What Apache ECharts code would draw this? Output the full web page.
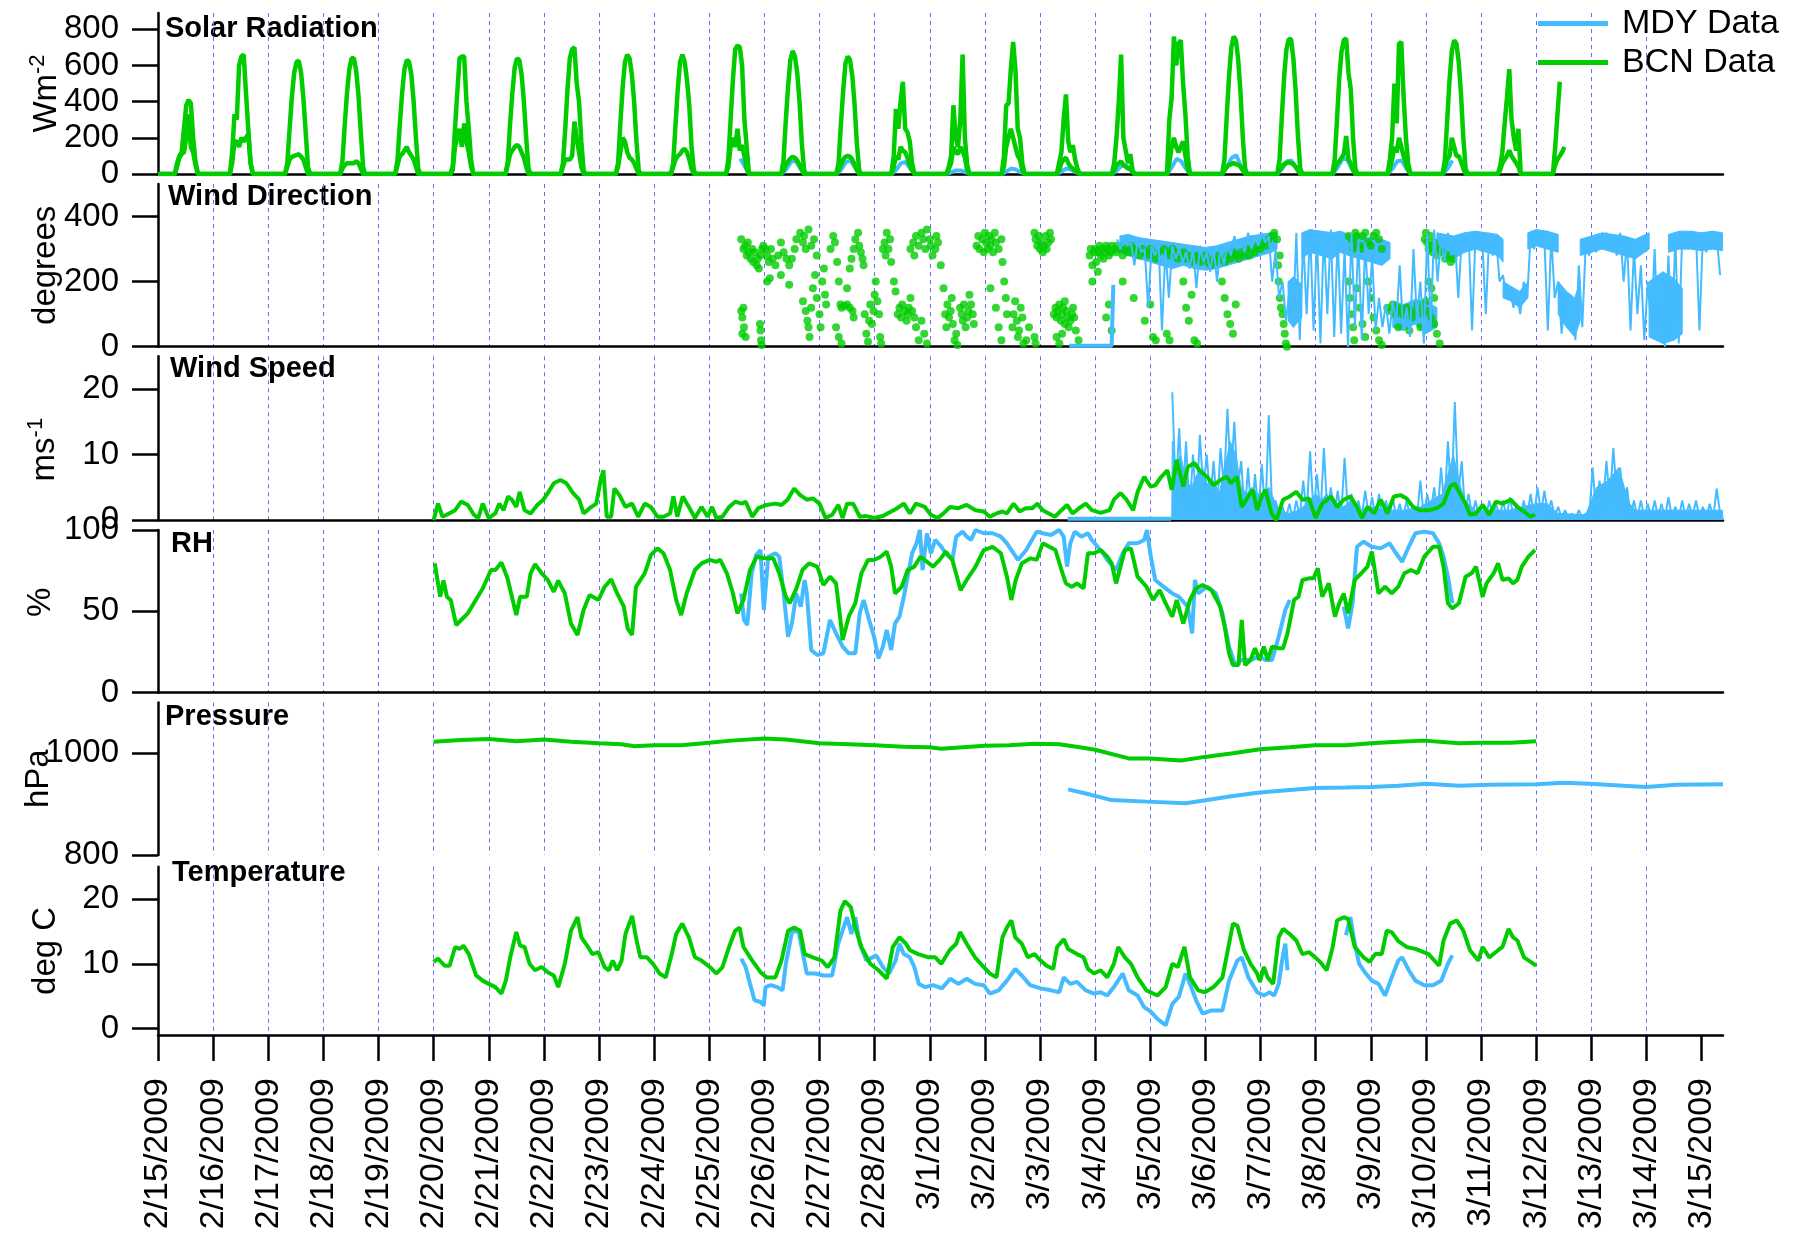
<!DOCTYPE html>
<html><head><meta charset="utf-8">
<script src="https://cdn.jsdelivr.net/npm/echarts@6/dist/echarts.min.js"></script>
<style>html,body{margin:0;padding:0;background:#fff}#c{width:1808px;height:1238px}</style>
</head><body><div id="c"></div>
<script>
// ---------- DATA (x = days since 2/15/2009 00:00) ----------
const dayTicks = [0,1,2,3,4,5,6,7,8,9,10,11,12,13,14,15,16,17,18,19,20,21,22,23,24,25,26,27,28];
const solarTicks = [0,200,400,600,800];
const wdTicks = [0,200,400];
const wsTicks = [0,10,20];
const rhTicks = [0,50,100];
const pTicks = [800,1000];
const tTicks = [0,10,20];

// Solar radiation: values at the hours below for each day 2/15 .. 3/12
const solarHours = [7.3,8.3,9.3,10.3,11.3,12.3,13.3,14.3,15.3,16.3,17.3,18.2];
const bcnSolarLead = [[0,0]];
const bcnSolarHi = [
[0,60,100,120,250,380,410,390,200,70,10,0],
[0,120,330,300,600,650,660,450,250,60,0,0],
[0,60,250,430,560,620,625,560,420,230,40,0],
[0,70,270,450,580,640,640,570,430,230,40,0],
[0,80,280,450,580,630,620,550,400,200,30,0],
[0,40,250,450,640,650,650,400,250,80,0,0],
[0,70,280,450,590,640,630,550,400,200,30,0],
[0,60,250,470,640,690,700,500,400,180,20,0],
[0,60,280,480,620,660,640,550,400,180,20,0],
[0,60,270,470,620,660,620,520,380,150,20,0],
[0,80,300,520,690,710,700,600,300,150,0,0],
[0,70,290,480,630,680,650,560,400,170,20,0],
[0,60,270,460,610,650,630,540,380,160,20,0],
[0,100,360,250,400,510,250,230,180,60,0,0],
[0,40,100,380,200,150,300,660,200,50,0,0],
[0,100,380,390,580,730,580,250,200,60,0,0],
[0,60,120,300,440,180,120,160,80,30,0,0],
[0,60,200,400,660,200,130,60,110,20,0,0],
[0,300,420,760,600,720,740,500,330,100,0,0],
[0,80,320,540,700,760,740,630,450,200,30,0],
[0,80,320,540,690,745,745,640,460,210,30,0],
[0,80,300,530,680,740,750,560,470,200,30,0],
[0,80,200,500,280,720,730,430,200,60,0,0],
[0,80,300,520,680,740,720,620,440,200,30,0],
[0,40,120,280,420,580,300,200,130,250,0,0],
[0,150,330,510]
];
const bcnSolarLo = [
[0,40,90,110,120,200,330,150,120,50,0,0],
[0,60,180,180,150,200,180,200,220,60,0,0],
[0,40,80,95,100,105,110,95,80,40,0,0],
[0,30,50,60,60,60,60,70,60,30,0,0],
[0,50,100,110,130,150,120,100,80,40,0,0],
[0,20,150,200,250,150,280,180,120,40,0,0],
[0,50,110,130,150,160,150,120,90,40,0,0],
[0,40,80,80,80,100,290,200,120,40,0,0],
[0,40,120,200,180,120,90,80,60,30,0,0],
[0,40,80,100,110,130,140,120,80,30,0,0],
[0,40,150,200,150,250,130,160,100,30,0,0],
[0,20,50,70,85,95,90,75,50,20,0,0],
[0,20,50,80,95,100,95,80,50,20,0,0],
[0,40,100,80,150,130,120,90,50,20,0,0],
[0,30,60,150,120,110,150,130,90,20,0,0],
[0,40,150,200,250,200,150,100,80,20,0,0],
[0,20,60,80,90,60,40,30,20,10,0,0],
[0,20,50,60,70,50,40,30,30,10,0,0],
[0,60,150,200,150,120,150,180,100,30,0,0],
[0,20,40,50,55,60,55,50,40,20,0,0],
[0,20,40,55,60,65,60,55,40,20,0,0],
[0,30,60,70,90,110,210,80,60,20,0,0],
[0,30,80,150,120,200,150,100,60,20,0,0],
[0,40,80,100,200,150,100,100,70,30,0,0],
[0,20,60,80,100,130,100,80,60,40,0,0],
[0,50,80,100,120,150]
];
// MDY solar: values at the hours below for days 2/25 .. 3/10
const mdySolarHours = [7.5,9.5,11.5,13.5,15.5,17.5];
const mdySolar = [
[null,null,null,85,40,0],[0,25,65,75,35,0],[0,25,65,75,35,0],[0,25,60,66,30,0],
[0,10,20,20,10,0],[0,15,30,25,10,0],[0,15,30,25,10,0],[0,20,45,48,20,0],
[0,40,85,70,30,0],[0,40,90,103,40,0],[0,30,70,75,30,0],[0,35,80,85,35,0],
[0,30,70,75,30,0],[0,30,75]
];

// Wind direction
const bcnWd = [
[10.58,330],[10.62,300],[10.65,310],[10.68,280],[10.7,320],[10.72,290],[10.75,270],[10.78,300],[10.8,260],[10.83,290],[10.86,250],[10.88,270],[10.9,240],[10.93,280],[10.96,300],[10.98,310],[10.58,110],[10.6,90],[10.62,120],[10.63,60],[10.6,40],[10.66,30],[10.92,70],[10.93,50],[10.94,20],[10.95,5],
[11.02,300],[11.05,280],[11.08,260],[11.12,300],[11.15,270],[11.2,250],[11.25,280],[11.3,320],[11.35,290],[11.4,270],[11.45,250],[11.5,270],[11.55,300],[11.58,330],[11.05,200],[11.1,210],[11.3,220],[11.45,190],
[11.65,350],[11.7,320],[11.72,340],[11.75,300],[11.8,360],[11.85,310],[11.9,330],[11.95,280],[11.7,140],[11.75,110],[11.78,80],[11.8,60],[11.82,30],[11.85,120],[11.88,180],[11.92,220],[11.95,150],[12.0,100],[12.02,60],[12.05,200],[12.08,240],[12.1,160],[12.12,130],
[12.2,300],[12.25,340],[12.28,320],[12.32,260],[12.35,200],[12.38,130],[12.4,120],[12.45,125],[12.5,130],[12.55,120],[12.6,110],[12.62,90],[12.3,60],[12.35,30],[12.4,10],[12.5,180],[12.55,240],[12.58,270],[12.62,300],[12.65,330],[12.7,350],[12.72,310],[12.75,290],[12.78,270],
[12.8,250],[12.82,100],[12.85,40],[12.88,15],[12.9,80],[12.92,130],[12.95,70],[12.98,110],[13.0,160],[13.02,200],[13.05,140],[13.08,100],[13.1,30],[13.12,10],[13.15,300],[13.18,320],[13.2,280],[13.22,350],[13.25,300],[13.28,330],[13.3,260],[13.35,200],[13.38,170],
[13.42,100],[13.45,120],[13.48,90],[13.5,130],[13.55,110],[13.58,80],[13.6,100],[13.62,120],[13.65,150],[13.68,110],[13.72,90],[13.75,60],[13.8,20],[13.85,80],[13.9,40],[13.95,10],[13.65,300],[13.7,320],[13.72,280],[13.75,340],[13.8,310],[13.85,350],[13.88,330],[13.92,300],[13.95,360],
[14.0,330],[14.02,310],[14.05,280],[14.1,300],[14.12,340],[14.15,320],[14.2,250],[14.25,180],[14.28,100],[14.3,60],[14.32,130],[14.35,90],[14.38,110],[14.4,150],[14.42,70],[14.45,20],[14.48,40],[14.5,5],
[14.55,120],[14.58,100],[14.6,80],[14.62,130],[14.65,60],[14.68,90],[14.7,110],[14.72,160],[14.75,130],[14.78,100],[14.8,70],[14.85,310],[14.88,340],[14.9,300],[14.95,330],[14.98,290],
[15.0,350],[15.02,320],[15.05,300],[15.08,340],[15.1,310],[15.12,330],[15.15,290],[15.18,350],[15.2,320],[15.25,300],[15.3,330],[15.32,260],[15.35,200],[15.1,180],[15.2,120],[15.25,60],[15.3,20],[15.38,150],[15.4,100],
[15.5,60],[15.52,100],[15.55,140],[15.58,80],[15.6,30],[15.62,50],[15.65,120],[15.68,90],[15.7,10],[15.75,20],[15.8,60],[15.9,30],[15.92,10],
[15.9,350],[15.92,330],[15.95,310],[15.98,340],[16.0,300],[16.02,320],[16.05,290],[16.08,310],[16.1,340],[16.12,300],[16.15,320],[16.18,350],[16.2,330],
[16.25,100],[16.28,120],[16.3,90],[16.32,110],[16.35,130],[16.38,80],[16.4,100],[16.42,120],[16.45,70],[16.48,110],[16.5,90],[16.52,60],[16.55,80],[16.58,100],[16.6,120],[16.62,90],[16.3,30],[16.35,10],[16.4,40],[16.7,20],[16.65,50],[16.45,140],
[16.9,280],[16.92,300],[16.95,250],[16.98,290],[17.0,300],[17.02,260],[17.05,290],[17.08,310],[17.1,280],[17.12,300],[17.15,270],[17.18,290],[17.2,310],[17.22,300],[17.25,280],[17.28,290],[17.3,310],[16.95,200],[17.05,230],[17.2,90],[17.25,130],[17.3,50],
[17.35,300],[17.38,290],[17.4,310],[17.45,300],[17.5,280],[17.55,300],[17.6,290],[17.65,310],[17.7,290],[17.75,300],[17.8,280],[17.85,300],[17.9,290],[17.95,280],[18.0,300],[18.05,290],[18.1,270],[18.15,290],[17.5,200],[17.7,150],[17.9,80],[18.0,130],[18.05,30],[18.1,20],
[18.25,300],[18.3,290],[18.35,280],[18.4,300],[18.45,290],[18.5,270],[18.55,280],[18.6,290],[18.65,270],[18.7,280],[18.75,260],[18.8,270],[18.85,280],[18.9,260],[18.95,270],[19.0,280],[19.05,260],[19.1,250],[19.15,270],[19.2,260],[19.25,280],[19.3,270],[19.35,260],[19.4,280],[19.45,270],[19.5,290],[19.55,280],[19.6,270],[19.65,290],[19.7,280],[19.75,300],[19.8,280],[19.85,300],[19.9,290],[19.95,310],[20.0,300],[20.05,320],[20.1,310],[20.15,330],[20.2,340],[20.25,350],
[18.6,200],[18.65,120],[18.7,80],[18.75,160],[18.8,20],[18.85,10],[19.3,200],[19.35,150],[19.4,100],[19.45,70],[19.5,40],[19.55,130],[18.3,40],[18.35,20],
[20.3,330],[20.32,250],[20.33,200],[20.35,150],[20.37,120],[20.4,100],[20.42,70],[20.44,40],[20.46,10],[20.48,0],[20.35,280],
[21.6,340],[21.65,330],[21.68,300],[21.7,320],[21.72,350],[21.75,340],[21.8,310],[21.82,300],[21.85,340],[21.9,350],[21.95,320],[22.0,310],[22.05,340],[22.1,350],[22.15,330],[22.2,300],
[21.6,200],[21.62,150],[21.65,100],[21.68,60],[21.7,20],[21.75,180],[21.8,120],[21.85,70],[21.9,30],[21.95,200],[22.0,150],[22.05,90],[22.1,50],[22.15,20],[22.2,5],
[22.3,120],[22.35,110],[22.4,130],[22.45,100],[22.5,120],[22.55,110],[22.6,95],[22.65,120],[22.7,105],[22.75,90],[22.8,110],[22.85,130],[22.9,120],[22.95,100],[23.0,140],[23.05,110],[23.1,90],[23.15,70],[23.2,40],[23.25,10],[22.5,60],[22.7,50],[22.9,60],
[22.98,330],[23.0,350],[23.02,320],[23.05,300],[23.08,340],[23.1,310],[23.12,290],[23.15,320],[23.18,300],[23.2,280],[23.25,300],[23.3,290],[23.35,270],[23.4,280],[23.45,260],[23.5,270],[23.05,200],[23.1,180],[23.15,150]
];
const mdyWdLead = [[16.53,3],[17.3,3],[17.33,190]];
const mdyWdStart = 17.4, mdyWdStep = 0.0625;
const mdyWd = [
330,300,340,310, 320,250,330,290, 300,120,310,280, 320,50,300,150,
310,270,300,260, 290,240,300,180, 310,260,290,230, 300,200,310,250,
320,280,340,300, 330,290,350,300, 340,310,350,320, 340,200,300,150,
200,80,170,60, 350,20,330,100, 360,50,340,10, 350,100,360,30,
340,40,300,0, 350,60,330,20, 320,100,280,50, 150,60,130,40,
140,70,250,50, 120,30,300,80, 200,10,350,60, 360,200,340,260,
350,280,340,150, 330,290,350,50, 340,300,320,100, 350,280,330,200,
220,150,180,120, 160,100,200,150, 340,300,350,310, 330,50,340,150,
200,40,150,80, 130,20,250,60, 320,280,340,290, 330,300,350,310,
340,280,350,200, 330,50,300,100, 250,20,200,60, 300,30,150,0,
280,40,330,10, 340,300,350,310, 350,50,340,290, 350,300,340,220
];
// dense MDY direction bands, each a run of [day, low deg, high deg]
const mdyWdBands = [
 [[17.45,290,340],[17.6,280,345],[17.8,270,335],[18.0,260,330],[18.2,250,325],[18.4,240,320],[18.6,250,315],[18.8,240,310],[19.0,235,305],[19.2,240,310],[19.4,250,320],[19.6,260,330],[19.8,270,340],[20.0,280,345],[20.2,290,350],[20.3,300,350]],
 [[20.5,80,200],[20.6,60,215],[20.75,90,190]],
 [[20.75,270,350],[20.9,290,360],[21.1,280,355],[21.3,270,350],[21.45,290,355],[21.6,280,345],[21.8,270,340],[22.0,260,335],[22.2,250,330],[22.35,270,320]],
 [[22.4,60,140],[22.6,50,130],[22.8,70,145],[23.0,40,140],[23.2,60,120]],
 [[23.2,300,350],[23.35,280,345],[23.5,270,340],[23.7,290,350],[23.9,300,355],[24.1,290,350],[24.3,280,345],[24.4,260,330]],
 [[24.4,150,200],[24.55,140,185],[24.7,120,170],[24.85,150,200]],
 [[24.85,300,350],[25.0,310,360],[25.2,300,355],[25.4,290,345]],
 [[25.4,100,200],[25.55,60,170],[25.7,30,150],[25.8,80,200]],
 [[25.8,280,330],[26.0,290,340],[26.2,300,350],[26.4,290,345],[26.6,280,340],[26.8,270,330],[27.05,300,350]],
 [[27.05,30,200],[27.3,10,230],[27.5,20,210],[27.65,40,180]],
 [[27.4,290,345],[27.6,300,355],[27.8,300,355],[28.0,295,350],[28.2,300,355],[28.38,295,350]]
];

// Wind speed
const bcnWs = [[5.0,0],[5.08,2.5],[5.16,0.5],[5.28,1],[5.39,1.5],[5.5,2.8],[5.62,2.3],[5.73,0.8],[5.81,0.3],[5.89,2.5],[6.0,0.3],[6.12,1],[6.19,2.5],[6.27,1.5],[6.35,3.6],[6.42,3.1],[6.5,2],[6.56,4.3],[6.65,1.5],[6.76,1],[6.88,2.3],[6.99,3.1],[7.07,4.1],[7.18,5.6],[7.3,6.1],[7.41,5.6],[7.53,4.1],[7.64,3.1],[7.72,1],[7.83,1.8],[7.95,2.5],[8.03,6.1],[8.08,7.6],[8.14,0.5],[8.22,0.5],[8.28,4.8],[8.37,3.8],[8.48,2],[8.6,2.5],[8.71,0.5],[8.83,2.5],[8.94,2],[9.06,0.5],[9.17,0.5],[9.29,1],[9.35,3.6],[9.42,0.5],[9.52,3.6],[9.63,2],[9.74,0.3],[9.86,2],[9.97,0.5],[10.05,2],[10.13,0.3],[10.24,0.5],[10.36,2],[10.47,2.8],[10.59,2.5],[10.66,2.8],[10.78,0.5],[10.89,1.8],[11.04,2.3],[11.2,2.5],[11.31,2.3],[11.42,3.1],[11.54,4.8],[11.65,3.8],[11.77,3.1],[11.88,3.3],[12.0,2.5],[12.11,0.3],[12.23,0.8],[12.34,2.3],[12.42,0.3],[12.5,2.5],[12.61,2.5],[12.73,0.5],[12.85,0.6],[12.99,0.3],[13.15,0.6],[13.3,1.3],[13.41,1.8],[13.53,2.5],[13.64,1],[13.75,2.5],[13.91,2],[14.02,0.8],[14.14,0.3],[14.25,1],[14.37,2],[14.52,1.8],[14.67,2.3],[14.83,1.5],[14.98,1.3],[15.09,0.5],[15.21,1],[15.32,1.3],[15.4,1],[15.52,2.5],[15.63,1.3],[15.74,1.8],[15.86,1.8],[15.95,2.5],[16.05,1.5],[16.16,1],[16.27,0.5],[16.39,1.5],[16.49,2.3],[16.59,1],[16.71,1.8],[16.83,2.5],[16.94,1.5],[17.1,1.1],[17.26,1.5],[17.34,3.1],[17.46,4.1],[17.57,3.1],[17.69,1.5],[17.77,4.3],[17.89,6.6],[18.01,5.1],[18.09,5.3],[18.2,6.6],[18.31,7.6],[18.39,4.6],[18.48,9.2],[18.6,5.1],[18.68,8.1],[18.8,8.7],[18.91,7.4],[19.03,6.6],[19.15,5.3],[19.27,6.1],[19.39,6.6],[19.46,5.6],[19.57,6.6],[19.66,2],[19.78,3.6],[19.86,4.6],[19.94,1.5],[20.02,3.6],[20.09,4.6],[20.2,1],[20.29,0],[20.41,3.1],[20.53,3.6],[20.65,4.3],[20.76,3.1],[20.88,3.3],[21.0,0.3],[21.12,2.5],[21.28,3.6],[21.39,2],[21.51,3.1],[21.63,3.6],[21.75,2],[21.84,0.3],[21.94,2],[22.06,1],[22.18,3.1],[22.3,1],[22.42,3.6],[22.54,3.8],[22.65,3.3],[22.77,2],[22.89,1.5],[23.05,1.5],[23.2,1.8],[23.32,2.5],[23.44,5.1],[23.52,5.6],[23.6,4.3],[23.72,2.5],[23.8,0.8],[23.91,1],[24.03,2.3],[24.15,0.8],[24.27,2.8],[24.39,2.5],[24.54,3.1],[24.66,2],[24.78,1.3],[24.9,0.5],[24.98,0.8]];
const mdyWsLead = [[16.5,0.2],[18.38,0.2]];
const mdyWsStart = 18.4, mdyWsStep = 0.0625;
const mdyWs = [
19.5,4,14,3, 12,1,10,2, 13,4.5,10,3, 9,1.5,11,5, 17,6,15,5, 9,1,8,0.5, 7,1,8.5,0.5, 16,1,3,0.3,
2,0.3,2.5,0.2, 3,0.5,6,1, 10.5,1,7,0.5, 11,1,5,0.5, 4.5,0.5,9.5,1, 4,0.3,3,0.5, 4.5,0.5,3.5,0.3, 4,0.3,3,0.5,
3.5,0.3,2.5,0.3, 3,0.5,2,0.3, 6,0.5,4,1, 5,1,8,2, 12,3,18,4, 9,1,4,0.5, 3,0.3,2.5,0.3, 3,0.5,2.5,0.3,
3,0.5,3.5,0.5, 2.5,0.3,3,0.5, 4,0.5,5,1, 4.5,1,3,0.5, 2,0.3,1.5,0.2, 1,0.2,1.5,0.3, 1,0.5,8,1, 6,2,9,3,
11,4,8,2, 5,0.5,3,0.3, 3,0.3,2.5,0.3, 3,0.5,2.5,0.3, 3.5,0.5,2,0.3, 3,0.3,2.5,0.5, 3,0.3,2,0.5, 2.5,0.3,4.8,1
];
// dense lower envelope of MDY speed
const mdyWsEnv = [[18.39,0],[18.4,12],[18.45,8],[18.55,10],[18.65,6],[18.75,5],[18.85,7],[18.95,8],[19.05,5],[19.15,6],[19.25,4],[19.35,8],[19.45,12],[19.55,10],[19.65,5],[19.75,4],[19.85,5],[19.95,4],[20.05,4],[20.15,5],[20.25,3],[20.35,1.5],[20.5,1],[20.7,1.5],[20.9,3],[21.0,4],[21.1,3],[21.2,4],[21.35,2],[21.5,2],[21.65,3],[21.8,1.5],[22.0,2],[22.3,1.5],[22.6,1.5],[22.9,2],[23.1,3],[23.3,4],[23.4,7],[23.5,10],[23.6,6],[23.7,3],[23.9,1.5],[24.5,1.5],[25.0,2.5],[25.2,2.5],[25.4,1],[25.9,0.8],[26.0,3],[26.1,5],[26.3,6],[26.5,8],[26.6,5],[26.7,2.5],[26.8,1.5],[28.38,1.5],[28.39,0]];

// Relative humidity
const bcnRh = [[5.02,79.5],[5.12,59],[5.18,69],[5.24,59],[5.31,57],[5.41,41.6],[5.5,44.7],[5.62,48.8],[5.73,55],[5.89,64],[6.04,75.4],[6.12,75.4],[6.23,80],[6.34,70.3],[6.42,59],[6.5,47.7],[6.57,59],[6.69,59],[6.76,73.4],[6.84,79],[6.96,73.4],[7.07,69.3],[7.18,62],[7.26,68.9],[7.38,61],[7.49,42.6],[7.61,35.5],[7.72,50.8],[7.83,60],[7.99,57],[8.1,65],[8.22,69.7],[8.33,61],[8.45,52.9],[8.52,39.5],[8.6,35.5],[8.67,65],[8.83,73.4],[8.94,84.6],[9.06,88.7],[9.17,85.7],[9.29,75.4],[9.4,57],[9.49,47.7],[9.59,61],[9.74,75.4],[9.86,79.5],[10.01,81.6],[10.13,80.5],[10.2,81.6],[10.32,73.4],[10.43,61],[10.51,48.8],[10.62,57],[10.74,75.4],[10.86,83.6],[11.0,82.6],[11.16,82.6],[11.27,73.4],[11.39,59],[11.46,55],[11.58,64],[11.69,75.4],[11.81,79.5],[11.96,77.5],[12.07,66.2],[12.19,71.3],[12.3,67.2],[12.38,44.7],[12.42,32.4],[12.53,46.7],[12.65,55],[12.76,73.4],[12.88,81.6],[12.99,81.6],[13.11,83.6],[13.22,86.7],[13.3,77.5],[13.37,61],[13.49,65],[13.6,75.4],[13.72,77.5],[13.83,83.6],[13.95,80.5],[14.06,77.5],[14.18,81.6],[14.29,86.7],[14.41,81.6],[14.56,63],[14.67,69.3],[14.83,77.5],[14.98,87.7],[15.14,89.7],[15.29,85.7],[15.4,71.3],[15.48,57],[15.56,69.3],[15.67,79.5],[15.83,82.6],[15.94,81.6],[16.05,91.8],[16.17,89.7],[16.28,87.7],[16.39,75.4],[16.47,67.2],[16.58,65],[16.67,67.2],[16.79,64.1],[16.87,85.7],[16.98,85.7],[17.1,87.7],[17.22,83.6],[17.3,79.5],[17.38,67.2],[17.54,87.7],[17.65,88.7],[17.77,71.3],[17.93,65.2],[18.05,57],[18.17,63.1],[18.28,54.9],[18.4,46.7],[18.48,57],[18.6,42.6],[18.72,57],[18.83,64.1],[18.95,66.2],[19.11,63.1],[19.27,52.9],[19.35,40.6],[19.43,24.2],[19.5,17],[19.6,17],[19.66,44.7],[19.72,17],[19.82,20.1],[19.9,27.3],[19.98,20.1],[20.06,28.3],[20.13,20.1],[20.21,28.3],[20.33,27.3],[20.41,27.3],[20.49,36.5],[20.61,57],[20.69,59],[20.76,69.3],[20.88,70.3],[20.96,70.3],[21.04,76.4],[21.12,59],[21.24,67.2],[21.35,46.7],[21.43,55],[21.51,61],[21.59,48.8],[21.71,69.3],[21.83,73.4],[21.94,77.5],[22.02,86.7],[22.14,61],[22.26,65.2],[22.38,61],[22.5,65.2],[22.61,73.4],[22.73,75.4],[22.85,73.4],[22.97,83.6],[23.13,89.7],[23.24,89.7],[23.32,77.5],[23.4,55],[23.48,51.8],[23.6,55],[23.72,71.3],[23.83,73.4],[23.91,77.5],[24.03,59],[24.1,67.2],[24.23,73.4],[24.31,79.5],[24.39,69.3],[24.5,70.3],[24.58,67.2],[24.66,69.3],[24.74,77.5],[24.86,83.6],[24.98,87.7]];
const mdyRh1 = [[10.58,61],[10.63,44.7],[10.69,41.6],[10.77,73.4],[10.85,84.6],[10.93,87.7],[10.99,50.8],[11.07,83.6],[11.2,85.7],[11.27,83.6],[11.35,61],[11.43,34.4],[11.5,42.6],[11.58,61],[11.66,52.9],[11.73,69.3],[11.77,61],[11.85,26.2],[11.96,23.2],[12.07,24.2],[12.19,44.7],[12.3,36.5],[12.42,28.3],[12.53,24.2],[12.65,24.2],[12.73,48.8],[12.8,57],[12.9,44.7],[12.99,34.4],[13.07,21.1],[13.15,28.3],[13.22,38.5],[13.3,26.2],[13.37,42.6],[13.45,46.7],[13.53,59],[13.6,71.3],[13.68,85.7],[13.76,91.8],[13.82,100],[13.87,75.4],[13.95,98],[14.02,85.7],[14.1,93.9],[14.21,89.7],[14.29,85.7],[14.41,81.6],[14.48,95.9],[14.6,99],[14.67,95.9],[14.75,93.9],[14.83,100],[14.98,98],[15.14,98],[15.29,95.9],[15.4,91.8],[15.52,85.7],[15.6,81.6],[15.75,87.7],[15.94,99],[16.05,98],[16.2,96.9],[16.35,100],[16.43,95.9],[16.49,77.5],[16.55,91.8],[16.63,99],[16.75,95.9],[16.87,98],[16.94,93.9],[17.02,90.8],[17.14,85.7],[17.22,81.6],[17.38,75.4],[17.5,85.7],[17.61,91.8],[17.77,91.8],[17.89,93.9],[17.94,100],[18.01,83.6],[18.09,69.3],[18.24,65.2],[18.4,61],[18.52,59],[18.68,52.9],[18.76,36.5],[18.81,69.3],[18.87,61],[19.03,65.2],[19.19,61],[19.31,48.8],[19.43,28.3],[19.54,17],[19.66,20.1],[19.82,20.1],[19.98,22.1],[20.09,20.1],[20.21,20.1],[20.33,34.4],[20.45,50.8],[20.53,57]];
const mdyRh2 = [[21.51,52.9],[21.59,39.5],[21.67,55],[21.75,89.7],[21.87,92.8],[22.02,89.7],[22.18,88.7],[22.34,91.8],[22.46,85.7],[22.57,80.5],[22.69,89.7],[22.81,98],[22.97,99],[23.13,98],[23.24,91.8],[23.32,83.6],[23.4,71.3],[23.48,55]];

// Pressure
const bcnP = [[5.0,1023],[5.5,1026],[6.0,1028],[6.5,1024],[7.0,1027],[7.5,1023],[8.0,1020],[8.41,1018],[8.64,1014],[9.0,1016],[9.48,1016],[10.0,1021],[10.4,1025],[11.0,1029],[11.39,1027],[12.0,1020],[12.53,1018],[13.0,1016],[13.53,1013],[14.0,1012],[14.21,1009],[14.6,1012],[15.0,1015],[15.44,1016],[15.9,1019],[16.35,1018],[16.72,1012],[17.0,1007],[17.61,990],[17.99,990],[18.56,986],[18.99,993],[19.5,1000],[19.99,1008],[20.53,1012],[20.99,1016],[21.55,1016],[22.0,1020],[22.5,1023],[22.97,1025],[23.6,1020],[24.0,1021],[24.54,1021],[25.0,1024]];
const mdyP = [[16.51,929],[16.83,921],[17.3,908],[17.93,905],[18.64,902],[19.03,908],[19.5,916],[19.99,923],[20.53,928],[20.99,932],[21.55,933],[22.02,934],[22.5,936],[23.01,940],[23.6,936],[24.15,938],[25.02,939],[25.49,942],[25.96,940],[26.59,936],[27.0,934],[27.54,938],[28.39,939]];

// Temperature
const bcnTemp = [[5.0,10.3],[5.08,10.8],[5.2,9.7],[5.29,9.7],[5.39,12.6],[5.47,12.3],[5.54,12.8],[5.64,11.5],[5.77,8.2],[5.89,7.4],[6.0,6.9],[6.12,6.4],[6.23,5.4],[6.31,7.4],[6.39,11.0],[6.5,14.9],[6.57,12.8],[6.65,12.6],[6.74,10],[6.84,9],[6.96,9.5],[7.07,8.7],[7.18,8.2],[7.26,6.4],[7.38,10],[7.49,15.1],[7.61,17.2],[7.68,14.1],[7.8,12.6],[7.88,11.5],[7.99,11.8],[8.1,9.5],[8.18,9],[8.25,10.5],[8.33,9],[8.41,10.5],[8.48,14.6],[8.6,17.4],[8.67,14.1],[8.75,11],[8.87,11],[8.98,10],[9.1,8.5],[9.21,7.9],[9.32,11.5],[9.4,14.6],[9.51,16.2],[9.63,14.1],[9.74,11],[9.86,10.5],[10.01,9.5],[10.13,8.5],[10.24,9.5],[10.36,12.6],[10.47,15.1],[10.55,15.6],[10.62,12.6],[10.78,10.5],[10.93,8.7],[11.04,7.9],[11.2,7.9],[11.31,10.5],[11.43,15.1],[11.54,15.6],[11.65,15.1],[11.73,11.5],[11.88,11],[12.04,10.5],[12.15,9.5],[12.27,11],[12.38,18.2],[12.46,19.7],[12.57,18.7],[12.65,15.6],[12.76,12.6],[12.92,10],[13.07,9],[13.22,7.7],[13.33,12.6],[13.45,14.1],[13.57,13.1],[13.64,12.1],[13.79,11.5],[13.98,11],[14.1,11],[14.21,10],[14.36,12.1],[14.48,13.1],[14.55,14.9],[14.67,13.1],[14.82,11],[14.98,9.5],[15.09,8.5],[15.21,7.9],[15.32,14.1],[15.4,15.6],[15.48,16.7],[15.55,14.1],[15.67,13.1],[15.78,11],[15.9,11.5],[16.01,10.5],[16.12,9.7],[16.24,9.2],[16.31,12.6],[16.43,13.8],[16.51,12.3],[16.67,11.5],[16.79,11],[16.87,9.2],[16.98,8.5],[17.1,9],[17.22,7.9],[17.34,10],[17.42,12.6],[17.54,11],[17.65,10],[17.77,7.9],[17.93,5.9],[18.13,5.1],[18.28,6.4],[18.4,10],[18.5,9.5],[18.62,12.6],[18.72,7.9],[18.87,5.9],[18.99,5.6],[19.15,6.4],[19.31,7.9],[19.43,13.1],[19.5,16.2],[19.58,15.9],[19.7,12.1],[19.82,10],[19.94,8.5],[19.99,7.2],[20.06,9.5],[20.13,7.9],[20.23,6.9],[20.33,14.1],[20.41,15.4],[20.53,14.6],[20.65,13.6],[20.76,11.5],[20.88,11.8],[20.99,11],[21.08,10.3],[21.2,9],[21.31,12.6],[21.39,16.7],[21.51,17.2],[21.59,16.9],[21.71,12.6],[21.87,11],[21.98,10.3],[22.08,11.5],[22.2,11.5],[22.29,15.1],[22.38,14.9],[22.5,13.5],[22.65,12.6],[22.81,12.3],[23.05,11.5],[23.24,9.7],[23.32,13.6],[23.44,16.2],[23.56,16.7],[23.68,15.1],[23.8,12.1],[23.95,10.5],[24.03,12.6],[24.15,11],[24.31,12.1],[24.39,12.6],[24.5,15.4],[24.58,14.1],[24.66,13.6],[24.78,11],[24.9,10.3],[25.0,9.7]];
const mdyTemp1 = [[10.58,10.8],[10.66,9.5],[10.74,6.9],[10.82,4.4],[10.93,4.1],[10.99,3.6],[11.02,6.4],[11.12,6.7],[11.23,6.4],[11.33,5.9],[11.39,10],[11.5,14.9],[11.62,15.1],[11.7,11.5],[11.77,8.5],[11.92,8.5],[12.07,8.2],[12.23,8.2],[12.34,13.1],[12.5,17.2],[12.58,14.6],[12.65,17.2],[12.73,13.1],[12.85,10.5],[13.03,11.3],[13.15,9.5],[13.26,8.5],[13.38,10.5],[13.45,13.1],[13.53,11.5],[13.64,11],[13.72,9.5],[13.8,6.9],[13.91,6.4],[14.06,6.7],[14.22,6.2],[14.37,7.7],[14.52,6.9],[14.67,7.7],[14.82,6.9],[14.98,6.7],[15.09,5.4],[15.25,5.9],[15.4,7.4],[15.55,9.2],[15.67,8.2],[15.82,6.7],[16.01,6.2],[16.2,5.9],[16.35,5.6],[16.43,7.9],[16.55,6.9],[16.67,7.2],[16.83,5.9],[16.98,5.4],[17.1,5.6],[17.22,5.1],[17.34,6.4],[17.5,8.5],[17.61,5.9],[17.77,5.1],[17.89,3.3],[18.01,2.6],[18.13,1.5],[18.28,0.5],[18.4,3.8],[18.52,4.9],[18.64,8.5],[18.72,6.9],[18.83,4.4],[18.95,2.3],[19.11,2.8],[19.31,2.8],[19.43,7.4],[19.58,10.5],[19.66,11],[19.78,7.9],[19.94,5.6],[20.06,5.1],[20.17,5.6],[20.25,5.1],[20.33,6.9],[20.41,11.5],[20.45,13.1],[20.49,9]];
const mdyTemp2 = [[21.55,14.4],[21.63,17.2],[21.71,13.1],[21.79,10],[21.91,8.5],[22.02,7.4],[22.14,6.9],[22.26,5.1],[22.38,7.9],[22.5,10.5],[22.57,11],[22.69,9],[22.81,7.4],[22.97,6.7],[23.13,6.7],[23.28,7.4],[23.4,10],[23.48,11.3]];

// ---------- BUILD ----------
const X_MAX = 28.39;
const GREEN = '#00cc00', BLUE = '#44bbff';
const FONT = '"Liberation Sans", Arial, Helvetica, sans-serif';
const DAY0 = Date.UTC(2009, 1, 15);
function fmtDate(v){ const d = new Date(DAY0 + Math.round(v) * 864e5); return (d.getUTCMonth()+1) + '/' + d.getUTCDate() + '/' + d.getUTCFullYear(); }
function daily(startDay, hours, rows){ const out = []; rows.forEach((r, i) => r.forEach((v, j) => { if (v != null) out.push([startDay + i + hours[j] / 24, v]); })); return out; }
function stepped(start, step, vals){ return vals.map((v, i) => [start + i * step, v]); }

const panels = [
  {top:13,    height:161,   min:0,   max:890,  ticks:solarTicks, title:'Solar Radiation', tx:165, ty:29,  name:'{a|Wm}{b|-2}', xline:true, ng:91,  npad:0},
  {top:184,   height:162.7, min:0,   max:500,  ticks:wdTicks,    title:'Wind Direction',  tx:168, ty:197, name:'degrees', xline:true,      ng:96,  npad:0},
  {top:356.3, height:163.7, min:0,   max:25,   ticks:wsTicks,    title:'Wind Speed',      tx:170, ty:369, name:'{a|ms}{b|-1}', xline:true, ng:93,  npad:[0,23,0,0]},
  {top:530,   height:162.7, min:0,   max:100,  ticks:rhTicks,    title:'RH',              tx:171, ty:544, name:'%', xline:true,            ng:101, npad:[0,0,0,18]},
  {top:702.5, height:152.5, min:800, max:1100, ticks:pTicks,     title:'Pressure',        tx:165, ty:717, name:'hPa', xline:false,         ng:103, npad:0},
  {top:866.7, height:168.3, min:-1,  max:25,   ticks:tTicks,     title:'Temperature',     tx:172, ty:873, name:'deg C', xline:true,        ng:96,  npad:0}
];

const grids = panels.map(p => ({left:158, width:1565, top:p.top, height:p.height, outerBoundsMode:'none', containLabel:false}));
const xAxes = panels.map((p, i) => ({
  type:'value', gridIndex:i, min:0, max:X_MAX, interval:1,
  axisLine:{show:p.xline, onZero:false, lineStyle:{color:'#000', width:2.5}},
  axisTick:{show:i === 5, customValues:dayTicks, length:26, lineStyle:{color:'#000', width:2.5}},
  axisLabel:{show:i === 5, customValues:dayTicks, rotate:90, margin:43, fontSize:34, color:'#000', fontFamily:FONT, formatter:fmtDate},
  splitLine:{show:true, showMinLine:false, showMaxLine:false, lineStyle:{color:'#6b6bff', width:1, type:[4,4]}}
}));
const yAxes = panels.map((p, i) => ({
  type:'value', gridIndex:i, min:p.min, max:p.max,
  axisLine:{show:true, onZero:false, lineStyle:{color:'#000', width:2.5}},
  axisTick:{show:true, customValues:p.ticks, length:26, lineStyle:{color:'#000', width:2.5}},
  axisLabel:{customValues:p.ticks, margin:39, fontSize:33, color:'#000', fontFamily:FONT, formatter:v => String(v)},
  splitLine:{show:false},
  name:p.name, nameLocation:'middle', nameRotate:90, nameGap:p.ng, nameMoveOverlap:false,
  nameTextStyle:{fontSize:33, color:'#000', fontFamily:FONT, padding:p.npad,
    rich:{a:{fontSize:33, fontFamily:FONT, color:'#000', lineHeight:40}, b:{fontSize:22, fontFamily:FONT, color:'#000', verticalAlign:'top', lineHeight:40}}}
}));

function line(name, color, data, g, w){
  return {type:'line', name, data, xAxisIndex:g, yAxisIndex:g, showSymbol:false, symbol:'none',
    lineStyle:{color, width:w || 4}, itemStyle:{color}, animation:false, silent:true};
}
function bandPoly(name, color, runs, g){
  const pts = [];
  runs.forEach((run, k) => run.forEach(p => pts.push([p[0], p[1], p[2], k])));
  return {type:'custom', name, data:pts, xAxisIndex:g, yAxisIndex:g, silent:true, animation:false,
    encode:{x:0, y:[1,2]}, itemStyle:{color},
    renderItem:(params, api) => {
      const i = params.dataIndex, cur = pts[i], nxt = pts[i + 1];
      if (!nxt || nxt[3] !== cur[3]) return null;
      const points = [api.coord([cur[0], cur[2]]), api.coord([nxt[0], nxt[2]]), api.coord([nxt[0], nxt[1]]), api.coord([cur[0], cur[1]])];
      return {type:'polygon', shape:{points}, style:{fill:color, stroke:color, lineWidth:1}};
    }};
}

const series = [
  // solar
  line('MDY Data', BLUE, daily(10, mdySolarHours, mdySolar), 0),
  line('BCN Data', GREEN, bcnSolarLead.concat(daily(0, solarHours, bcnSolarLo)), 0, 4.5),
  line('BCN Data', GREEN, bcnSolarLead.concat(daily(0, solarHours, bcnSolarHi)), 0, 4.5),
  // wind direction
  bandPoly('MDY Data', BLUE, mdyWdBands, 1),
  line('MDY Data', BLUE, mdyWdLead, 1, 4),
  line('MDY Data', BLUE, stepped(mdyWdStart, mdyWdStep, mdyWd), 1, 2),
  {type:'scatter', name:'BCN Data', data:bcnWd, xAxisIndex:1, yAxisIndex:1, symbolSize:8, itemStyle:{color:GREEN}, animation:false, silent:true},
  // wind speed
  Object.assign(line('MDY Data', BLUE, mdyWsEnv, 2, 1), {areaStyle:{color:BLUE, opacity:1}}),
  line('MDY Data', BLUE, mdyWsLead, 2, 4),
  line('MDY Data', BLUE, stepped(mdyWsStart, mdyWsStep, mdyWs), 2, 2),
  line('BCN Data', GREEN, bcnWs, 2),
  // RH
  line('MDY Data', BLUE, mdyRh1, 3),
  line('MDY Data', BLUE, mdyRh2, 3),
  line('BCN Data', GREEN, bcnRh, 3),
  // pressure
  line('MDY Data', BLUE, mdyP, 4),
  line('BCN Data', GREEN, bcnP, 4),
  // temperature
  line('MDY Data', BLUE, mdyTemp1, 5),
  line('MDY Data', BLUE, mdyTemp2, 5),
  line('BCN Data', GREEN, bcnTemp, 5)
];

const chart = echarts.init(document.getElementById('c'), null, {renderer:'canvas'});
chart.setOption({
  animation:false,
  backgroundColor:'#fff',
  textStyle:{fontFamily:FONT},
  grid:grids, xAxis:xAxes, yAxis:yAxes, series,
  legend:{data:['MDY Data','BCN Data'], orient:'vertical', left:1538, top:4, padding:0,
    itemWidth:70, itemHeight:5, itemGap:0, icon:'rect', selectedMode:false,
    textStyle:{fontSize:34, color:'#000', fontFamily:FONT, lineHeight:39, padding:[0,0,0,9]}},
  graphic: panels.map(p => ({type:'text', x:p.tx, y:p.ty, silent:true,
    style:{text:p.title, font:'bold 29px ' + FONT, fill:'#000', verticalAlign:'middle'}}))
});
</script></body></html>
